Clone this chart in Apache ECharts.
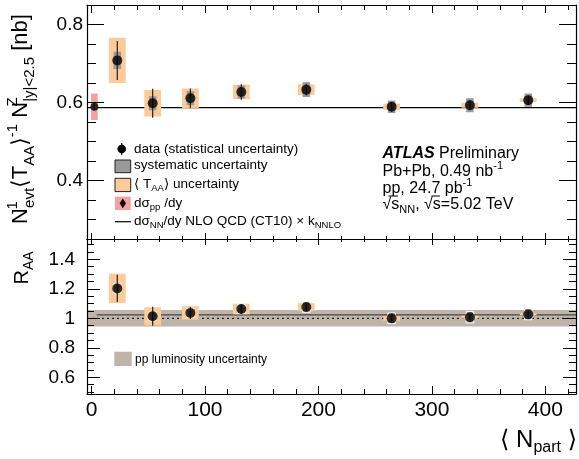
<!DOCTYPE html>
<html><head><meta charset="utf-8">
<script src="https://cdn.jsdelivr.net/npm/echarts@6/dist/echarts.min.js"></script>
<style>html,body{margin:0;padding:0;background:#fff}#c{width:579px;height:459px}</style>
</head><body><div id="c"></div>
<script>
// ---------- data ----------
const npart     = [22.7, 53.9, 87.1, 132.0, 189.3, 264.5, 333.5, 384.9];
const yieldVal  = [0.708, 0.598, 0.611, 0.627, 0.633, 0.589, 0.593, 0.606];
const yieldStat = [0.050, 0.037, 0.025, 0.020, 0.015, 0.012, 0.012, 0.012];
const yieldSys  = [0.022, 0.018, 0.018, 0.017, 0.019, 0.016, 0.018, 0.017];
const yieldTaa  = [0.058, 0.034, 0.025, 0.0185, 0.0135, 0.008, 0.0065, 0.005];

const ppNpart = [2.5];
const ppVal   = [0.589];
const ppStat  = [0.008];
const ppSys   = [0.034];

const raaVal  = [1.203, 1.014, 1.037, 1.063, 1.077, 1.000, 1.008, 1.027];
const raaStat = [0.092, 0.065, 0.042, 0.032, 0.025, 0.020, 0.020, 0.020];
const raaSys  = [0.030, 0.030, 0.030, 0.030, 0.036, 0.036, 0.039, 0.037];
const raaTaa  = [0.100, 0.061, 0.045, 0.036, 0.026, 0.016, 0.010, 0.007];

const nloYield = 0.587;
const nloRaa = 1.024;
const nloRaaStart = 4.6;
const lumiUnc = 0.056;

const xMajor = [0, 100, 200, 300, 400];
const xMinor = [20, 40, 60, 80, 120, 140, 160, 180, 220, 240, 260, 280, 320, 340, 360, 380, 420];
const yTopMajor = [0.4, 0.6, 0.8];
const yTopMinor = [0.25, 0.3, 0.35, 0.45, 0.5, 0.55, 0.65, 0.7, 0.75, 0.85];
const yBotMajor = [0.6, 0.8, 1.0, 1.2, 1.4];
const yBotMinor = [0.5, 0.55, 0.65, 0.7, 0.75, 0.85, 0.9, 0.95, 1.05, 1.1, 1.15, 1.25, 1.3, 1.35, 1.45, 1.5];

// ---------- style ----------
const FONT = "'Liberation Sans', Arial, Helvetica, 'DejaVu Sans', sans-serif";
const xRange = [-4, 427];
const topRange = [0.25, 0.85];
const botRange = [0.487, 1.538];
const ORANGE = '#fdcb99', GRAY = '#999999', PINK = '#f5a0a0', LUMI = '#beb4aa';

function axis(gi, pos, range, ticks, len, opts) {
  opts = opts || {};
  return {
    type: 'value', gridIndex: gi, position: pos, min: range[0], max: range[1], z: 10,
    axisLine: {show: !!opts.line, onZero: false, lineStyle: {color: '#000', width: 1.2}},
    axisTick: {show: true, inside: true, length: len, customValues: ticks, lineStyle: {color: '#000', width: 1}},
    axisLabel: opts.labels ? Object.assign({show: true, customValues: opts.labels, color: '#000', fontFamily: FONT}, opts.labelStyle) : {show: false},
    splitLine: {show: false}
  };
}

function boxRender(halfW, fill, stroke) {
  return function (params, api) {
    const x = api.value(0), y = api.value(1), e = api.value(2);
    const p1 = api.coord([x - halfW, y + e]);
    const p2 = api.coord([x + halfW, y - e]);
    return {type: 'rect', shape: {x: p1[0], y: p1[1], width: p2[0] - p1[0], height: p2[1] - p1[1]},
      style: {fill: fill, stroke: stroke || null, lineWidth: stroke ? 1 : 0}};
  };
}
function barRender(params, api) {
  const x = api.value(0), y = api.value(1), e = api.value(2);
  const p1 = api.coord([x, y + e]);
  const p2 = api.coord([x, y - e]);
  return {type: 'line', shape: {x1: p1[0], y1: p1[1], x2: p2[0], y2: p2[1]}, style: {stroke: '#222', lineWidth: 1.2}};
}
function bandRender(params, api) {
  const p1 = api.coord([api.value(0), api.value(3)]);
  const p2 = api.coord([api.value(1), api.value(2)]);
  return {type: 'rect', shape: {x: p1[0], y: p1[1], width: p2[0] - p1[0], height: p2[1] - p1[1]}, style: {fill: LUMI}};
}

const trip = (xs, ys, es) => xs.map((x, i) => [x, ys[i], es[i]]);

const chart = echarts.init(document.getElementById('c'), null, {renderer: 'canvas'});
const subS = {fontSize: 15, verticalAlign: 'bottom', fontFamily: FONT};
const supS = {fontSize: 15, verticalAlign: 'top', fontFamily: FONT};

chart.setOption({
  animation: false,
  backgroundColor: '#fff',
  grid: [
    {left: 87, right: 3, top: 5, height: 234},
    {left: 87, right: 3, top: 239, height: 155}
  ],
  xAxis: [
    axis(0, 'bottom', xRange, xMajor, 6, {line: true}),
    axis(0, 'bottom', xRange, xMinor, 3),
    axis(0, 'top', xRange, xMajor, 8, {line: true}),
    axis(0, 'top', xRange, xMinor, 5),
    axis(1, 'bottom', xRange, xMajor, 8, {line: true, labels: xMajor, labelStyle: {fontSize: 21, margin: 6}}),
    axis(1, 'bottom', xRange, xMinor, 5),
    axis(1, 'top', xRange, xMajor, 6, {line: true}),
    axis(1, 'top', xRange, xMinor, 3)
  ],
  yAxis: [
    axis(0, 'left', topRange, yTopMajor, 17, {line: true, labels: yTopMajor, labelStyle: {fontSize: 19, margin: 4, formatter: v => (+v).toFixed(1)}}),
    axis(0, 'left', topRange, yTopMinor, 9),
    axis(0, 'right', topRange, yTopMajor, 17, {line: true}),
    axis(0, 'right', topRange, yTopMinor, 9),
    axis(1, 'left', botRange, yBotMajor, 13, {line: true, labels: yBotMajor, labelStyle: {fontSize: 19, margin: 12, formatter: v => Math.abs(v - 1) < 1e-9 ? '1' : (+v).toFixed(1)}}),
    axis(1, 'left', botRange, yBotMinor, 7),
    axis(1, 'right', botRange, yBotMajor, 13, {line: true}),
    axis(1, 'right', botRange, yBotMinor, 7)
  ],
  series: [
    // ---- top panel ----
    {type: 'line', xAxisIndex: 0, yAxisIndex: 0, data: [[xRange[0], nloYield], [xRange[1], nloYield]],
      symbol: 'none', lineStyle: {color: '#000', width: 1.3}, z: 1, silent: true},
    {type: 'custom', xAxisIndex: 0, yAxisIndex: 0, renderItem: boxRender(7.4, ORANGE), data: trip(npart, yieldVal, yieldTaa), z: 2, silent: true},
    {type: 'custom', xAxisIndex: 0, yAxisIndex: 0, renderItem: boxRender(2.95, PINK), data: trip(ppNpart, ppVal, ppSys), z: 2, silent: true},
    {type: 'custom', xAxisIndex: 0, yAxisIndex: 0, renderItem: boxRender(3.3, GRAY), data: trip(npart, yieldVal, yieldSys), z: 3, silent: true},
    {type: 'custom', xAxisIndex: 0, yAxisIndex: 0, renderItem: barRender, data: trip(npart, yieldVal, yieldStat).concat(trip(ppNpart, ppVal, ppStat)), z: 4, silent: true},
    {type: 'scatter', xAxisIndex: 0, yAxisIndex: 0, data: npart.map((x, i) => [x, yieldVal[i]]), symbolSize: 10, itemStyle: {color: '#000'}, z: 5, silent: true},
    {type: 'scatter', xAxisIndex: 0, yAxisIndex: 0, data: ppNpart.map((x, i) => [x, ppVal[i]]), symbol: 'circle', symbolSize: 8, itemStyle: {color: '#000'}, z: 5, silent: true},
    // ---- bottom panel ----
    {type: 'custom', xAxisIndex: 4, yAxisIndex: 4, renderItem: bandRender, data: [[xRange[0], xRange[1], 1 - lumiUnc, 1 + lumiUnc]], z: 1, silent: true},
    {type: 'line', xAxisIndex: 4, yAxisIndex: 4, data: [[xRange[0], 1], [xRange[1], 1]], symbol: 'none',
      lineStyle: {color: '#000', width: 1, type: [2, 3]}, z: 2, silent: true},
    {type: 'line', xAxisIndex: 4, yAxisIndex: 4, data: [[nloRaaStart, nloRaa], [xRange[1], nloRaa]], symbol: 'none',
      lineStyle: {color: '#444', width: 1.3}, z: 2, silent: true},
    {type: 'custom', xAxisIndex: 4, yAxisIndex: 4, renderItem: boxRender(7.4, ORANGE), data: trip(npart, raaVal, raaTaa), z: 3, silent: true},
    {type: 'custom', xAxisIndex: 4, yAxisIndex: 4, renderItem: boxRender(3.3, 'rgba(150,150,150,0.55)', '#fff'), data: trip(npart, raaVal, raaSys), z: 4, silent: true},
    {type: 'custom', xAxisIndex: 4, yAxisIndex: 4, renderItem: barRender, data: trip(npart, raaVal, raaStat), z: 5, silent: true},
    {type: 'scatter', xAxisIndex: 4, yAxisIndex: 4, data: npart.map((x, i) => [x, raaVal[i]]), symbolSize: 10, itemStyle: {color: '#000'}, z: 6, silent: true}
  ],
  graphic: [
    // y titles
    {type: 'text', x: 21, y: 119, rotation: Math.PI / 2, z: 100,
      style: {x: 0, y: 0, align: 'center', verticalAlign: 'middle', fill: '#000',
        fontFamily: FONT, fontSize: 22, lineHeight: 32,
        text: 'N{supw|-1}{sub|evt}⟨T{sub|AA}⟩{sup|-1} N{supw|Z}{sub||y|<2.5} [nb]',
        rich: {sub: subS, sup: supS, supw: Object.assign({width: 0.1}, supS)}}},
    {type: 'text', x: 22, y: 268, rotation: Math.PI / 2, z: 100,
      style: {x: 0, y: 0, align: 'center', verticalAlign: 'middle', fill: '#000',
        fontFamily: FONT, fontSize: 20, lineHeight: 28,
        text: 'R{sub|AA}', rich: {sub: {fontSize: 14, verticalAlign: 'bottom', fontFamily: FONT}}}},
    // x title
    {type: 'text', x: 577, y: 440, z: 100,
      style: {align: 'right', verticalAlign: 'middle', fill: '#000', fontFamily: FONT, fontSize: 24, lineHeight: 32,
        text: '⟨ N{sub|part} ⟩', rich: {sub: {fontSize: 16, verticalAlign: 'bottom', fontFamily: FONT}}}},
    // legend markers (top)
    {type: 'line', shape: {x1: 121.7, y1: 143, x2: 121.7, y2: 155}, style: {stroke: '#000', lineWidth: 1.2}, z: 100},
    {type: 'circle', shape: {cx: 121.7, cy: 149, r: 4.3}, style: {fill: '#000'}, z: 100},
    {type: 'rect', shape: {x: 115, y: 160, width: 15.7, height: 12.7}, style: {fill: GRAY, stroke: '#222', lineWidth: 1}, z: 100},
    {type: 'rect', shape: {x: 115, y: 178.3, width: 15.7, height: 13.3}, style: {fill: ORANGE, stroke: '#222', lineWidth: 1}, z: 100},
    {type: 'rect', shape: {x: 115, y: 196.7, width: 15.7, height: 13.3}, style: {fill: PINK}, z: 100},
    {type: 'polygon', shape: {points: [[122.8, 198.5], [126, 203.3], [122.8, 208.3], [119.6, 203.3]]}, style: {fill: '#000'}, z: 101},
    {type: 'line', shape: {x1: 115, y1: 221.7, x2: 131, y2: 221.7}, style: {stroke: '#000', lineWidth: 1.2}, z: 100},
    // legend texts (top)
    ...[
      [149, 'data (statistical uncertainty)'],
      [165.7, 'systematic uncertainty'],
      [184.3, '⟨ T{s|AA}⟩ uncertainty'],
      [203.5, 'dσ{s|pp} /dy'],
      [221.7, 'dσ{s|NN}/dy NLO QCD (CT10) × k{s|NNLO}']
    ].map(r => ({type: 'text', x: 134, y: r[0], z: 100,
      style: {text: r[1], align: 'left', verticalAlign: 'middle', fill: '#000', fontFamily: FONT, fontSize: 13.5, lineHeight: 18,
        rich: {s: {fontSize: 9.5, verticalAlign: 'bottom', fontFamily: FONT}}}})),
    // ATLAS block
    ...[
      [154, '{b|ATLAS} Preliminary'],
      [171.7, 'Pb+Pb, 0.49 nb{u|-1}'],
      [188.3, 'pp, 24.7 pb{u|-1}'],
      [204.5, '√s{d|NN}, √s=5.02 TeV']
    ].map(r => ({type: 'text', x: 382.5, y: r[0], z: 100,
      style: {text: r[1], align: 'left', verticalAlign: 'middle', fill: '#000', fontFamily: FONT, fontSize: 16, lineHeight: 22,
        rich: {b: {fontWeight: 'bold', fontStyle: 'italic', fontSize: 16, fontFamily: FONT},
               u: {fontSize: 11, verticalAlign: 'top', fontFamily: FONT},
               d: {fontSize: 11, verticalAlign: 'bottom', fontFamily: FONT}}}})),
    // overlines of the square roots
    {type: 'line', shape: {x1: 388.5, y1: 196, x2: 398, y2: 196}, style: {stroke: '#000', lineWidth: 1}, z: 100},
    {type: 'line', shape: {x1: 431.5, y1: 196, x2: 440, y2: 196}, style: {stroke: '#000', lineWidth: 1}, z: 100},
    // bottom legend
    {type: 'rect', shape: {x: 114.3, y: 351.7, width: 17.4, height: 14.3}, style: {fill: LUMI}, z: 100},
    {type: 'text', x: 135, y: 359.3, z: 100,
      style: {text: 'pp luminosity uncertainty', align: 'left', verticalAlign: 'middle', fill: '#000', fontFamily: FONT, fontSize: 12}}
  ]
});
</script></body></html>
